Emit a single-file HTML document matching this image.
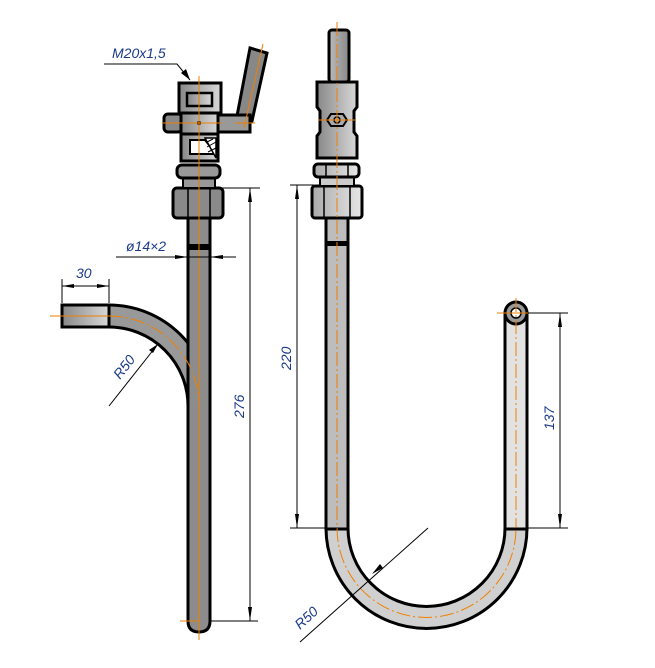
<!DOCTYPE html>
<html><head><meta charset="utf-8"><style>
html,body{margin:0;padding:0;background:#fff;width:655px;height:668px;overflow:hidden}
svg{display:block}
text{font-family:"Liberation Sans",sans-serif;font-style:italic;fill:#1a3a8a;font-size:14px}
</style></head><body>
<svg width="655" height="668" viewBox="0 0 655 668" xmlns="http://www.w3.org/2000/svg">
<defs>
<linearGradient id="g1" x1="0" x2="1" y1="0" y2="0"><stop offset="0" stop-color="#888"/><stop offset="1" stop-color="#d8d8d8"/></linearGradient>
<linearGradient id="g2" x1="0" x2="1" y1="0" y2="0"><stop offset="0" stop-color="#aaa"/><stop offset="1" stop-color="#e6e6e6"/></linearGradient>
<linearGradient id="gh" x1="0" x2="1" y1="0" y2="0"><stop offset="0" stop-color="#bbb"/><stop offset="1" stop-color="#888"/></linearGradient>
</defs>

<!-- ===== LEFT VIEW ===== -->
<!-- bend -->
<path d="M109,316 A90,90 0 0 1 199,406" fill="none" stroke="#000" stroke-width="25"/>
<path d="M109,316 A90,90 0 0 1 199,406" fill="none" stroke="#999" stroke-width="19"/>
<rect x="62" y="305" width="47" height="22" fill="url(#g1)" stroke="#000" stroke-width="3"/>
<!-- vertical pipe -->
<path d="M188,218 V621 Q188,632 199,632 Q210,632 210,621 V218 Z" fill="#8c8c8c" stroke="#000" stroke-width="3"/>
<rect x="188" y="244" width="22" height="6" fill="#000"/>
<!-- hex nut -->
<rect x="173" y="188" width="50" height="30" rx="4" fill="#8a8a8a" stroke="#000" stroke-width="3"/>
<line x1="188" y1="188" x2="188" y2="218" stroke="#000" stroke-width="1.5"/>
<line x1="210" y1="188" x2="210" y2="218" stroke="#000" stroke-width="1.5"/>
<rect x="183" y="178" width="32" height="10" fill="#999" stroke="#000" stroke-width="2"/>
<rect x="177" y="165" width="43" height="13" rx="5" fill="#999" stroke="#000" stroke-width="3"/>
<!-- lower body -->
<rect x="181" y="133" width="37" height="28" fill="url(#g1)" stroke="#000" stroke-width="3"/>
<path d="M190,140 L205,140 L216,154 L190,154 Z" fill="#fff" stroke="#000" stroke-width="2"/>
<path d="M205,138 L216,138 L216,158 Z" fill="#fff" stroke="#000" stroke-width="1.5"/>
<path d="M207,142 l6,-3 M207,147 l9,-5 M208,152 l8,-4" stroke="#000" stroke-width="1"/>
<!-- knob -->
<rect x="164" y="114" width="18" height="18" rx="4" fill="#888" stroke="#000" stroke-width="3"/>
<!-- handle -->
<path d="M250,48 L267,53 L252,121 L237,116 Z" fill="#888" stroke="#000" stroke-width="3"/>
<rect x="213" y="115" width="37" height="17" fill="#999" stroke="#000" stroke-width="3"/>
<!-- middle body -->
<rect x="181" y="112" width="37" height="22" fill="url(#g1)" stroke="#000" stroke-width="3"/>
<circle cx="199" cy="123" r="2" fill="#000"/>
<!-- top body -->
<rect x="179" y="83" width="42" height="30" fill="url(#g1)" stroke="#000" stroke-width="3"/>
<rect x="187" y="93" width="25" height="13" fill="url(#g1)" stroke="#000" stroke-width="2.5"/>
<!-- centerlines left -->
<g stroke="#f08000" stroke-width="1" fill="none">
<line x1="199" y1="76" x2="199" y2="640"/>
<line x1="162" y1="123" x2="222" y2="123"/>
<line x1="235" y1="123" x2="255" y2="123"/>
<line x1="263" y1="44" x2="244" y2="128"/>
<line x1="50" y1="316" x2="109" y2="316"/>
<path d="M109,316 A90,90 0 0 1 199,406" stroke-dasharray="14,3,2,3"/>
<line x1="180" y1="621" x2="199" y2="621"/>
</g>
<!-- leader M20x1,5 -->
<text x="112" y="58">M20x1,5</text>
<polyline points="104,64 177,64 190,80" fill="none" stroke="#000" stroke-width="1"/>
<path d="M190,80 L181,73 L186,69 Z" fill="#000"/>
<!-- dim 30 -->
<line x1="62" y1="303" x2="62" y2="279" stroke="#000" stroke-width="1"/>
<line x1="109" y1="303" x2="109" y2="279" stroke="#000" stroke-width="1"/>
<line x1="62" y1="286" x2="109" y2="286" stroke="#000" stroke-width="1"/>
<path d="M62,286 l12,-2 v4 z M109,286 l-12,-2 v4 z" fill="#000"/>
<text x="76" y="278">30</text>
<!-- dim diameter -->
<line x1="116" y1="257" x2="236" y2="257" stroke="#000" stroke-width="1"/>
<path d="M188,257 l-13,-2 v4 z M210,257 l13,-2 v4 z" fill="#000"/>
<text x="126" y="251">ø14×2</text>
<!-- R50 left -->
<line x1="109" y1="406" x2="158" y2="344" stroke="#000" stroke-width="1"/>
<path d="M158,344 l-9,6 l4,3 z" fill="#000"/>
<text transform="translate(120,380) rotate(-52)">R50</text>
<!-- dim 276 -->
<line x1="222" y1="188" x2="260" y2="188" stroke="#000" stroke-width="1"/>
<line x1="210" y1="621" x2="258" y2="621" stroke="#000" stroke-width="1"/>
<line x1="250" y1="188" x2="250" y2="621" stroke="#000" stroke-width="1"/>
<path d="M250,188 l-2,14 h4 z M250,621 l-2,-14 h4 z" fill="#000"/>
<text transform="translate(244,418) rotate(-90)">276</text>

<!-- ===== RIGHT VIEW ===== -->
<path d="M337,528 A89.5,89.5 0 0 0 516,528" fill="none" stroke="#000" stroke-width="25"/>
<path d="M337,528 A89.5,89.5 0 0 0 516,528" fill="none" stroke="#d0d0d0" stroke-width="19"/>
<rect x="326" y="218" width="22" height="311" fill="#bdbdbd" stroke="#000" stroke-width="3"/>
<rect x="326" y="241" width="22" height="5" fill="#000"/>
<rect x="505" y="313" width="22" height="216" fill="#e2e2e2" stroke="#000" stroke-width="3"/>
<circle cx="516" cy="313" r="11" fill="#999" stroke="#000" stroke-width="3"/>
<circle cx="516" cy="313" r="5" fill="#fff" stroke="#000" stroke-width="1.5"/>
<!-- hex -->
<rect x="312" y="186" width="50" height="32" rx="3" fill="url(#g2)" stroke="#000" stroke-width="3"/>
<line x1="324" y1="186" x2="324" y2="218" stroke="#000" stroke-width="1.5"/>
<line x1="350" y1="186" x2="350" y2="218" stroke="#000" stroke-width="1.5"/>
<rect x="320" y="177" width="34" height="9" fill="#ccc" stroke="#000" stroke-width="2"/>
<rect x="314" y="164" width="45" height="13" rx="4" fill="url(#g2)" stroke="#000" stroke-width="3"/>
<line x1="326" y1="164" x2="326" y2="177" stroke="#000" stroke-width="1.5"/>
<line x1="348" y1="164" x2="348" y2="177" stroke="#000" stroke-width="1.5"/>
<!-- body -->
<path d="M317,82 H357 V107 L354,111 V132 L357,136 V158 H317 V136 L320,132 V111 L317,107 Z" fill="url(#g1)" stroke="#000" stroke-width="3"/>
<rect x="329" y="30" width="20" height="52" rx="3" fill="url(#gh)" stroke="#000" stroke-width="3"/>
<polygon points="331,114 343,114 347,120 343,126 331,126 327,120" fill="#aaa" stroke="#000" stroke-width="2"/>
<circle cx="337" cy="120" r="3" fill="none" stroke="#000" stroke-width="1.5"/>
<!-- centerlines right -->
<g stroke="#f08000" stroke-width="1" fill="none">
<line x1="337" y1="22" x2="337" y2="528" stroke-dasharray="14,3,2,3"/>
<line x1="318" y1="120" x2="355" y2="120"/>
<path d="M337,528 A89.5,89.5 0 0 0 516,528" stroke-dasharray="14,3,2,3"/>
<line x1="516" y1="298" x2="516" y2="528" stroke-dasharray="14,3,2,3"/>
<line x1="497" y1="313" x2="535" y2="313"/>
</g>
<!-- dim 220 -->
<line x1="290" y1="185" x2="314" y2="185" stroke="#000" stroke-width="1"/>
<line x1="290" y1="528" x2="337" y2="528" stroke="#000" stroke-width="1"/>
<line x1="297" y1="185" x2="297" y2="528" stroke="#000" stroke-width="1"/>
<path d="M297,185 l-2,14 h4 z M297,528 l-2,-14 h4 z" fill="#000"/>
<text transform="translate(291,370) rotate(-90)">220</text>
<!-- dim 137 -->
<line x1="528" y1="313" x2="568" y2="313" stroke="#000" stroke-width="1"/>
<line x1="516" y1="528" x2="568" y2="528" stroke="#000" stroke-width="1"/>
<line x1="560" y1="313" x2="560" y2="528" stroke="#000" stroke-width="1"/>
<path d="M560,313 l-2,14 h4 z M560,528 l-2,-14 h4 z" fill="#000"/>
<text transform="translate(554,430) rotate(-90)">137</text>
<!-- R50 right -->
<line x1="300" y1="642" x2="428" y2="528" stroke="#000" stroke-width="1"/>
<path d="M372,574 l8,-10 l3,4 z" fill="#000"/>
<text transform="translate(300,630) rotate(-42)">R50</text>
</svg>
</body></html>
